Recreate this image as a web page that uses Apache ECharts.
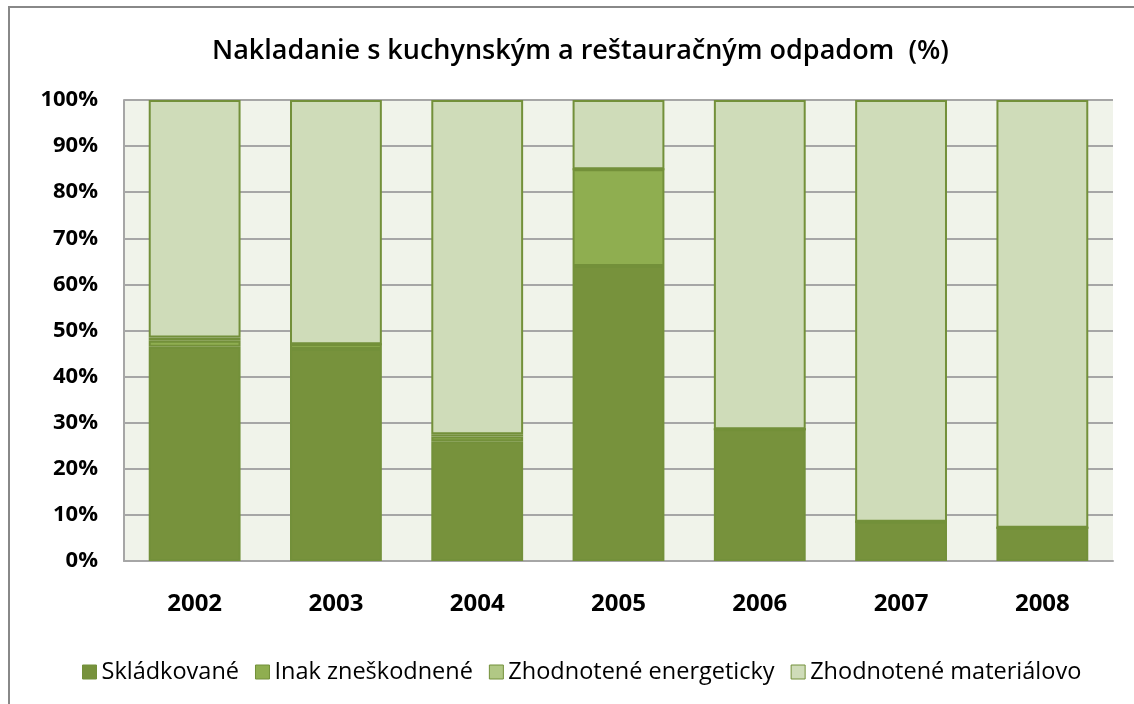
<!DOCTYPE html>
<html lang="sk">
<head>
<meta charset="UTF-8">
<title>Nakladanie s kuchynským a reštauračným odpadom</title>
<script src="https://cdn.jsdelivr.net/npm/echarts@6/dist/echarts.min.js"></script>
<style>
    html, body {
        margin: 0;
        padding: 0;
        background: #fff;
        overflow: hidden;
    }

    #frame {
        position: absolute;
        left: 8px;
        top: 6px;
        width: 1200px;
        height: 800px;
        border: 2px solid #888;
    }

    #chart {
        position: absolute;
        left: 0;
        top: 0;
        width: 1134px;
        height: 704px;
    }
</style>
</head>
<body>
<div id="frame"></div>
<div id="chart"></div>
<script type="text/javascript">
    // roky
    let years = ['2002', '2003', '2004', '2005', '2006', '2007', '2008'];
    // podiely v % (odčítané z grafu)
    let skladkovane = [46.5, 46, 26, 64, 28.6, 8.5, 7.2];
    let inakZneskodnene = [1.3, 1, 1, 21, 0, 0, 0];
    let energeticky = [0.7, 0, 0.5, 0, 0, 0, 0];
    let materialovo = [51.5, 53, 72.5, 15, 71.4, 91.5, 92.8];
    let yTicks = [0, 10, 20, 30, 40, 50, 60, 70, 80, 90, 100];

    let seriesNames = ['Skládkované', 'Inak zneškodnené', 'Zhodnotené energeticky', 'Zhodnotené materiálovo'];
    let seriesColors = ['#77923c', '#8fae50', '#b1c885', '#cfdcb9'];
    let seriesData = [skladkovane, inakZneskodnene, energeticky, materialovo];

    let chart = echarts.init(document.getElementById('chart'));
    let font = '"Open Sans", Lato, sans-serif';

    let series = [];
    for (let i = 0; i < seriesNames.length; i++) {
        series.push({
            name: seriesNames[i],
            type: 'bar',
            stack: 'total',
            barWidth: '65%',
            itemStyle: {
                color: seriesColors[i],
                borderColor: '#73903a',
                borderWidth: 2
            },
            emphasis: {disabled: true},
            data: seriesData[i]
        });
    }

    let option = {
        animation: false,
        backgroundColor: 'transparent',
        textStyle: {fontFamily: font},
        title: {
            text: 'Nakladanie s kuchynským a reštauračným odpadom  (%)',
            left: 207,
            top: 33,
            textStyle: {
                fontFamily: font,
                fontSize: 27,
                fontWeight: 600,
                color: '#000'
            }
        },
        legend: {
            data: seriesNames,
            bottom: 15,
            left: 77,
            icon: 'rect',
            itemWidth: 14,
            itemHeight: 14,
            itemGap: 16,
            textStyle: {
                fontFamily: font,
                fontSize: 23.5,
                color: '#000',
                padding: [0, 0, 0, 0]
            },
            itemStyle: {
                borderColor: '#73903a',
                borderWidth: 1
            }
        },
        grid: {
            left: 124,
            right: 21,
            top: 100,
            bottom: 143,
            show: true,
            backgroundColor: '#f0f3ea',
            borderWidth: 0
        },
        xAxis: {
            type: 'category',
            data: years,
            axisLine: {lineStyle: {color: '#a6a6a6', width: 2}},
            axisTick: {show: false},
            axisLabel: {
                margin: 31,
                fontFamily: font,
                fontSize: 24,
                fontWeight: 'bold',
                color: '#000'
            }
        },
        yAxis: {
            type: 'value',
            min: yTicks[0],
            max: yTicks[yTicks.length - 1],
            interval: 10,
            axisLine: {show: true, lineStyle: {color: '#a6a6a6', width: 2}},
            axisTick: {show: false},
            splitLine: {lineStyle: {color: '#a6a6a6', width: 2}},
            axisLabel: {
                margin: 26,
                fontFamily: font,
                fontSize: 22,
                fontWeight: 'bold',
                color: '#000',
                formatter: '{value}%'
            }
        },
        series: series
    };

    chart.setOption(option);
</script>
</body>
</html>
